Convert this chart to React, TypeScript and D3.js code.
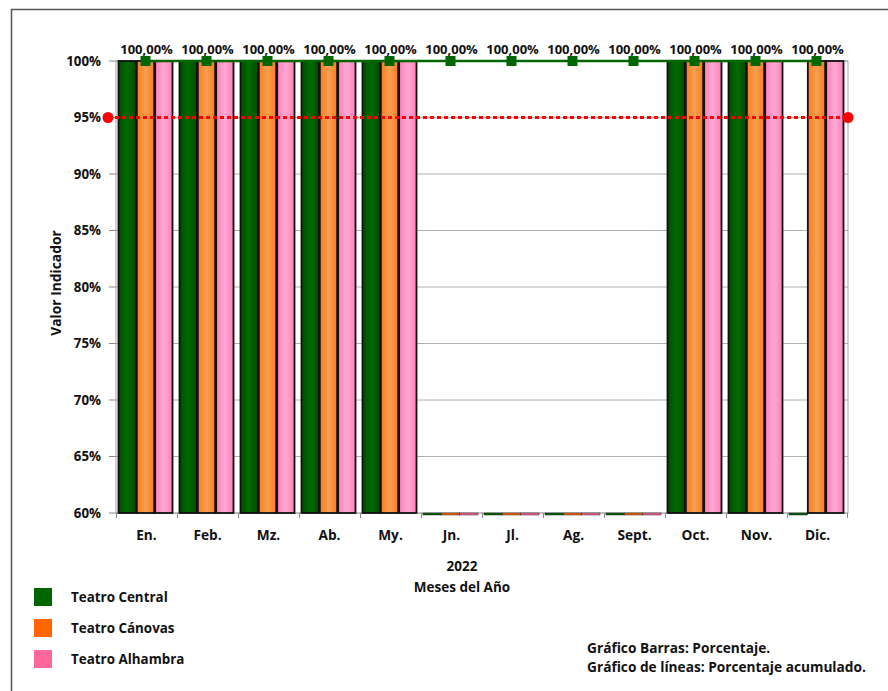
import React from "react";
import * as d3 from "d3";

const months = ["En.", "Feb.", "Mz.", "Ab.", "My.", "Jn.", "Jl.", "Ag.", "Sept.", "Oct.", "Nov.", "Dic."];
const seriesNames = ["Teatro Central", "Teatro Cánovas", "Teatro Alhambra"];
const central = [100, 100, 100, 100, 100, 0, 0, 0, 0, 100, 100, 0];
const canovas = [100, 100, 100, 100, 100, 0, 0, 0, 0, 100, 100, 100];
const alhambra = [100, 100, 100, 100, 100, 0, 0, 0, 0, 100, 100, 100];
const accumulated = [100, 100, 100, 100, 100, 100, 100, 100, 100, 100, 100, 100];
const accLabels = ["100,00%", "100,00%", "100,00%", "100,00%", "100,00%", "100,00%", "100,00%", "100,00%", "100,00%", "100,00%", "100,00%", "100,00%"];
const target = 95;
const yTicks = [60, 65, 70, 75, 80, 85, 90, 95, 100];

const FONT = "'Open Sans', 'Noto Sans', sans-serif";

export default function App() {
  const W = 888, H = 691;
  const left = 116, right = 848, top = 61, bottom = 513;
  const x = d3.scaleBand<string>().domain(months).range([left, right]).padding(0);
  const sub = d3.scaleBand<number>().domain([0, 1, 2]).range([2, x.bandwidth() - 4]).padding(0);
  const y = d3.scaleLinear().domain([60, 100]).range([bottom, top]);
  const allSeries = [central, canovas, alhambra];
  const fills = ["url(#gGreen)", "url(#gOrange)", "url(#gPink)"];
  const legendColors = ["#006600", "#ff6600", "#ff6699"];
  const lineGen = d3.line<number>()
    .x((_, i) => (x(months[i]) as number) + (sub(1) as number) + sub.bandwidth() / 2)
    .y((v) => y(v));

  return (
    <svg width={W} height={H} style={{ display: "block", position: "absolute", left: 0, top: 0 }} fontFamily={FONT}>
      <defs>
        <linearGradient id="gGreen" x1="0" x2="1" y1="0" y2="0">
          <stop offset="0" stopColor="#004d00" />
          <stop offset="0.5" stopColor="#006a00" />
          <stop offset="1" stopColor="#004d00" />
        </linearGradient>
        <linearGradient id="gOrange" x1="0" x2="1" y1="0" y2="0">
          <stop offset="0" stopColor="#ff7a20" />
          <stop offset="0.5" stopColor="#f5a050" />
          <stop offset="1" stopColor="#ff7a20" />
        </linearGradient>
        <linearGradient id="gPink" x1="0" x2="1" y1="0" y2="0">
          <stop offset="0" stopColor="#ff80b8" />
          <stop offset="0.5" stopColor="#ffa8d4" />
          <stop offset="1" stopColor="#ff80b8" />
        </linearGradient>
      </defs>
      <rect x={0} y={0} width={W} height={H} fill="#fff" />
      {/* outer frame */}
      <path d={`M11.5,${H + 5} V9.5 H${W + 5}`} fill="none" stroke="#555" strokeWidth={1.5} />
      {/* gridlines */}
      {yTicks.map((t) => (
        <line key={t} x1={left} x2={right} y1={y(t)} y2={y(t)} stroke="#b0b0b0" strokeWidth={1} />
      ))}
      {/* plot border */}
      <rect x={left} y={top} width={right - left} height={bottom - top} fill="none" stroke="#a8a8a8" strokeWidth={1} />
      {/* y ticks and labels */}
      {yTicks.map((t) => (
        <g key={t}>
          <line x1={left - 7} x2={left} y1={y(t)} y2={y(t)} stroke="#888" />
          <text x={101} y={y(t)} dy="0.35em" textAnchor="end" fontSize={13.3} fontWeight="bold" fill="#111">{t}%</text>
        </g>
      ))}
      {/* x ticks */}
      {months.map((m) => (
        <line key={m} x1={(x(m) as number) + 0.5} x2={(x(m) as number) + 0.5} y1={bottom} y2={bottom + 5} stroke="#888" />
      ))}
      <line x1={right - 0.5} x2={right - 0.5} y1={bottom} y2={bottom + 5} stroke="#888" />
      {/* bars */}
      {allSeries.map((s, si) =>
        s.map((v, i) => {
          const bx = (x(months[i]) as number) + (sub(si) as number);
          const bw = sub.bandwidth();
          if (v <= 60) {
            return <rect key={`${si}-${i}`} x={bx} y={bottom} width={bw} height={2} fill={legendColors[si]} stroke="#222" strokeWidth={0.5} />;
          }
          return (
            <rect key={`${si}-${i}`} x={bx + 0.5} y={y(v)} width={bw - 1} height={bottom - y(v)} fill={fills[si]} stroke="#111" strokeWidth={1.8} />
          );
        })
      )}
      {/* target line */}
      <line x1={108} x2={right} y1={y(target)} y2={y(target)} stroke="#ff0000" strokeWidth={3} strokeDasharray="4,3" />
      <circle cx={108} cy={y(target)} r={5.5} fill="#ff0000" />
      <circle cx={right} cy={y(target)} r={5.5} fill="#ff0000" />
      {/* accumulated line */}
      <path d={lineGen(accumulated) as string} fill="none" stroke="#006600" strokeWidth={2.5} />
      {accumulated.map((v, i) => {
        const cx = (x(months[i]) as number) + (sub(1) as number) + sub.bandwidth() / 2;
        return (
          <g key={i}>
            <rect x={cx - 5} y={y(v) - 5} width={10} height={10} fill="#006600" />
            <text x={cx + 1} y={y(v) - 7} textAnchor="middle" fontSize={13} fontWeight="bold" fill="#111">{accLabels[i]}</text>
          </g>
        );
      })}
      {/* x labels */}
      {months.map((m) => (
        <text key={m} x={(x(m) as number) + x.bandwidth() / 2} y={535} dy="0.35em" textAnchor="middle" fontSize={13.7} fontWeight="bold" fill="#111">{m}</text>
      ))}
      <text x={462} y={566} dy="0.35em" textAnchor="middle" fontSize={13.5} fontWeight="bold" fill="#111">2022</text>
      <text x={462} y={587} dy="0.35em" textAnchor="middle" fontSize={13.5} fontWeight="bold" fill="#111">Meses del Año</text>
      <text transform={`translate(56,${(top + bottom) / 2 - 4}) rotate(-90)`} dy="0.35em" textAnchor="middle" fontSize={13.8} fontWeight="bold" fill="#111">Valor Indicador</text>
      {/* legend */}
      {seriesNames.map((n, i) => (
        <g key={n}>
          <rect x={34} y={588 + i * 31} width={18} height={18} fill={legendColors[i]} />
          <text x={71} y={597 + i * 31} dy="0.35em" fontSize={13.4} fontWeight="bold" fill="#111">{n}</text>
        </g>
      ))}
      <text x={587} y={648} dy="0.35em" fontSize={13.7} fontWeight="bold" fill="#111">Gráfico Barras: Porcentaje.</text>
      <text x={587} y={667} dy="0.35em" fontSize={13.7} fontWeight="bold" fill="#111">Gráfico de líneas: Porcentaje acumulado.</text>
    </svg>
  );
}
